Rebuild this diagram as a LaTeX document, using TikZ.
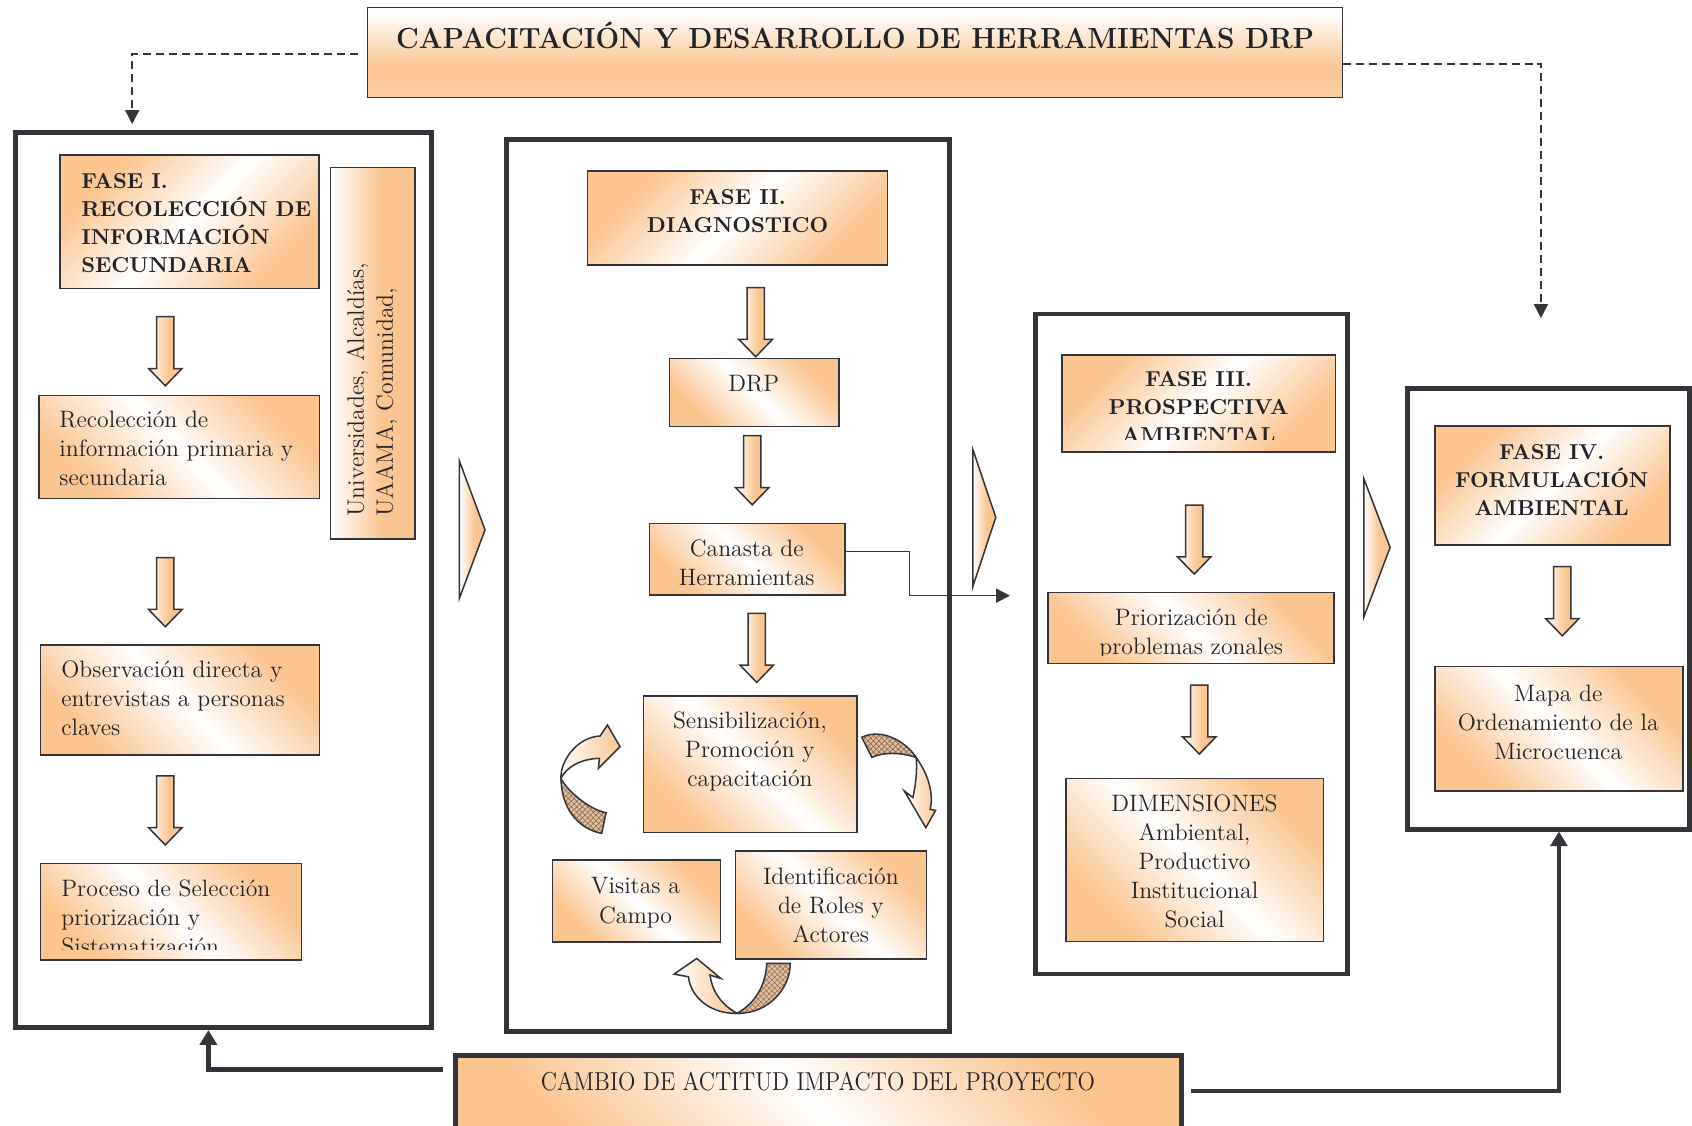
\documentclass[tikz,border=0pt]{standalone}
\usepackage{graphicx}
\usetikzlibrary{fit,arrows.meta,patterns.meta}
\definecolor{orng}{RGB}{251,197,144}
\definecolor{linec}{RGB}{52,52,58}
\definecolor{txtc}{RGB}{35,35,40}
\definecolor{hatchbg}{RGB}{224,190,158}
\definecolor{hatchln}{RGB}{146,106,78}
% diagonal band: orange corners, white stripe through the middle
\pgfdeclareverticalshading{orngband}{100bp}{color(0bp)=(orng); color(27bp)=(orng);
  color(50bp)=(white); color(73bp)=(orng); color(100bp)=(orng)}
% heading strip of the title
\pgfdeclareverticalshading{titleband}{100bp}{color(0bp)=(orng!55!white); color(25bp)=(orng!85!white);
  color(42bp)=(orng); color(72bp)=(white); color(100bp)=(white)}
% white on the left, orange towards the right
\pgfdeclarehorizontalshading{sidefill}{100bp}{color(0bp)=(white); color(25bp)=(white);
  color(55bp)=(orng); color(100bp)=(orng)}
\tikzset{
  frame/.style={draw=linec, line width=2.3pt, inner sep=0pt},
  boxline/.style={draw=linec, line width=0.7pt, inner sep=0pt},
  shadeA/.style={boxline, shade, shading=orngband, shading angle=45},
  shadeB/.style={boxline, shade, shading=orngband, shading angle=-45},
  body/.style={font=\fontsize{11}{13.5}\selectfont, text=txtc, inner sep=0pt,
    execute at begin node=\strut, execute at end node=\strut},
  head/.style={font=\fontsize{10}{13}\selectfont\bfseries, text=txtc, inner sep=0pt,
    execute at begin node=\strut, execute at end node=\strut},
  blockfill/.style={draw=linec, line width=0.7pt, shade, shading=sidefill},
  curvefront/.style={draw=linec, line width=0.7pt, left color=white, right color=orng},
  curveback/.style={preaction={fill=hatchbg},
    preaction={pattern={Lines[angle=45,distance=1.8pt,line width=0.3pt]}, pattern color=hatchln},
    preaction={pattern={Lines[angle=-45,distance=1.8pt,line width=0.3pt]}, pattern color=hatchln},
    draw=linec, line width=0.7pt},
  dashconn/.style={draw=linec, line width=0.7pt, dash pattern=on 3.7pt off 2.3pt,
    -{Triangle[length=6.5pt,width=6.5pt]}},
  thinconn/.style={draw=linec, line width=0.7pt, -{Triangle[length=6.5pt,width=6.5pt]}},
  thickconn/.style={draw=linec, line width=2.2pt, -{Triangle[length=6.8pt,width=7.8pt]}},
  downarrow/.pic={\path[blockfill] (-8,0) -- (-8,48) -- (-15.5,48) -- (0,64) -- (15.5,48) -- (8,48) -- (8,0) -- cycle;},
}
\begin{document}
\begin{tikzpicture}[x=0.5pt, y=-0.5pt]
\useasboundingbox (0,0) rectangle (1568,1043);
\fill[white] (0,0) rectangle (1568,1043);

% ---------- title ----------
\node[boxline, shade, shading=titleband, fit={(340.5,6.8) (1244.1,90.5)}] (title) {};
\node[anchor=base, text=txtc, inner sep=0pt] (titletext) at (792.5,45)
  {\scalebox{0.96}[1]{\fontsize{13.5}{16}\selectfont\bfseries CAPACITACIÓN Y DESARROLLO DE HERRAMIENTAS DRP}};

% ---------- phase frames ----------
\node[frame, fit={(14.7,122.8) (399.5,952.3)}] (f1) {};
\node[frame, fit={(469.6,129.7) (879.6,956)}] (f2) {};
\node[frame, fit={(960,291) (1248.3,902.6)}] (f3) {};
\node[frame, fit={(1304.7,359.9) (1565.5,768.3)}] (f4) {};

% ---------- phase I ----------
\node[shadeA, fit={(55.6,143.7) (295.7,267.2)}] (h1) {};
\node[head, align=left, anchor=north west] (h1t) at (75,160)
  {FASE I.\\RECOLECCIÓN DE\\INFORMACIÓN\\SECUNDARIA};
\node[boxline, shade, shading=sidefill, fit={(306.5,155) (384.6,499.5)}] (actors) {};
\node[body, rotate=90, align=left, anchor=north west] (actorst) at (321,479)
  {Universidades, Alcaldías,\\UAAMA, Comunidad,};
\pic at (153.2,293.5) {downarrow};
\node[shadeB, fit={(36.1,366.7) (296,461.8)}] (rec) {};
\node[body, align=left, anchor=north west] (rect) at (54.7,380.5)
  {Recolección de\\información primaria y\\secundaria};
\pic at (153.2,516.8) {downarrow};
\node[shadeB, fit={(37.7,597.8) (296,699.7)}] (obs) {};
\node[body, align=left, anchor=north west] (obst) at (56.5,612)
  {Observación directa y\\entrevistas a personas\\claves};
\pic at (153.2,719) {downarrow};
\node[shadeB, fit={(37.7,800) (279.6,889.7)}] (proc) {};
\begin{scope}
  \clip (37.7,800) rectangle (279.6,880);
  \node[body, align=left, anchor=north west] (proct) at (56.5,814.5)
    {Proceso de Selección\\priorización y\\Sistematización};
\end{scope}

% ---------- phase II ----------
\node[shadeA, fit={(544.6,158.5) (822.3,245.6)}] (h2) {};
\node[head, align=center, anchor=north] (h2t) at (683.5,175.5) {FASE II.\\DIAGNOSTICO};
\pic at (700.3,266.6) {downarrow};
\node[shadeB, fit={(620.3,332) (777.3,395.4)}] (drp) {};
\node[body, anchor=north] (drpt) at (698.5,343.5) {DRP};
\pic at (697.1,403.8) {downarrow};
\node[shadeB, fit={(601.8,485) (783.1,551.4)}] (canasta) {};
\node[body, align=center, anchor=north] (canastat) at (692,500) {Canasta de\\Herramientas};
\pic at (701.3,568.4) {downarrow};
\node[shadeB, fit={(596.2,645) (794,771.7)}] (sens) {};
\node[body, align=center, anchor=north] (senst) at (695,659)
  {Sensibilización,\\Promoción y\\capacitación};
\node[shadeB, fit={(511.9,797) (667.6,873)}] (visitas) {};
\node[body, align=center, anchor=north] (visitast) at (589,813) {Visitas a\\Campo};
\node[shadeB, fit={(681.8,788.7) (858.8,888.5)}] (ident) {};
\node[body, align=center, anchor=north] (identt) at (770,803.7)
  {Identificación\\de Roles y\\Actores};

% curved arrows of the field cycle
\path[curveback] (557.6,772.3) .. controls (535,768) and (520,748) .. (519.9,721.3)
  .. controls (524,731) and (545,750) .. (561.6,753.2) -- cycle;
\path[curvefront] (519.9,721.3) .. controls (519,705) and (535,683) .. (556.1,682.1)
  -- (562.9,671.9) -- (574.6,692) -- (554.5,712.1) -- (555.5,702.8)
  .. controls (540,703) and (525,710) .. (519.9,721.3) -- cycle;
\path[curveback] (798.6,683.3) .. controls (815,675) and (838,685) .. (849,702)
  .. controls (835,697) and (818,697) .. (807.9,701.9) -- cycle;
\path[curvefront] (849,702) .. controls (862,720) and (865,738) .. (862,750)
  -- (867,751) -- (858,767) -- (838,733) -- (846,739)
  .. controls (849,726) and (850,712) .. (849,702) -- cycle;
\path[curveback] (732.2,892.8) .. controls (733,915) and (712,940) .. (683,939)
  .. controls (700,930) and (710,912) .. (710.5,892.8) -- cycle;
\path[curvefront] (683,939) .. controls (660,940) and (640,925) .. (638,905.2)
  -- (624.7,902.7) -- (645.7,888.2) -- (667.9,906.7) -- (658,903.6)
  .. controls (660,920) and (670,932) .. (683,939) -- cycle;

% ---------- phase III ----------
\node[shadeA, fit={(984,329) (1237.6,419)}] (h3) {};
\begin{scope}
  \clip (984,329) rectangle (1237.6,407);
  \node[head, align=center, anchor=north] (h3t) at (1110.8,344)
    {FASE III.\\PROSPECTIVA\\AMBIENTAL};
\end{scope}
\pic at (1106.7,468) {downarrow};
\node[shadeB, fit={(971,549) (1236.3,614.8)}] (prior) {};
\begin{scope}
  \clip (971,549) rectangle (1236.3,607);
  \node[body, align=center, anchor=north] (priort) at (1104,563.5)
    {Priorización de\\problemas zonales};
\end{scope}
\pic at (1111.4,634.8) {downarrow};
\node[shadeB, fit={(988,721.3) (1226.4,872.7)}] (dim) {};
\node[body, align=center, anchor=north] (dimt) at (1107,736)
  {DIMENSIONES\\Ambiental,\\Productivo\\Institucional\\Social};

% ---------- phase IV ----------
\node[shadeA, fit={(1329.6,394.8) (1547.6,505.1)}] (h4) {};
\node[head, align=center, anchor=north] (h4t) at (1438,411.5)
  {FASE IV.\\FORMULACIÓN\\AMBIENTAL};
\pic at (1447.8,525.2) {downarrow};
\node[shadeB, fit={(1329.6,617.8) (1559.8,732.8)}] (mapa) {};
\node[body, align=center, anchor=north] (mapat) at (1444,634)
  {Mapa de\\Ordenamiento de la\\Microcuenca};

% ---------- transitions between phases ----------
\path[blockfill] (425.7,427.2) -- (449.5,491) -- (425.7,554.5) -- cycle;
\path[blockfill] (901.5,416.4) -- (922.8,479.4) -- (901.5,543.7) -- cycle;
\path[blockfill] (1264,443.9) -- (1288.2,507.3) -- (1264,571.5) -- cycle;

% ---------- impact box ----------
\node[shadeB, line width=2.3pt, fit={(422,978.2) (1095,1075)}] (cambio) {};
\node[anchor=base, text=txtc, inner sep=0pt] (cambiot) at (758,1011)
  {\scalebox{0.882}[1]{\fontsize{12}{14}\selectfont CAMBIO DE ACTITUD IMPACTO DEL PROYECTO}};

% ---------- connectors ----------
\coordinate (dl) at (122.5,115);
\coordinate (dr) at (1428,294.8);
\draw[dashconn] ([xshift=-4pt,yshift=-0.7pt]title.west) -| (dl);
\draw[dashconn] ([yshift=-5.3pt]title.east) -| (dr);
\coordinate (cn1) at (842.7,552);
\coordinate (cn2) at (936,552);
\draw[thinconn] ([yshift=3.45pt]canasta.east) -| (cn1) -- (cn2);
\coordinate (cl) at (410.3,990.9);
\coordinate (cr) at (1103.8,1011);
\draw[thickconn] (cl) -| ([xshift=-7pt]f1.south);
\draw[thickconn] (cr) -| ([xshift=4.8pt]f4.south);
\end{tikzpicture}
\end{document}
